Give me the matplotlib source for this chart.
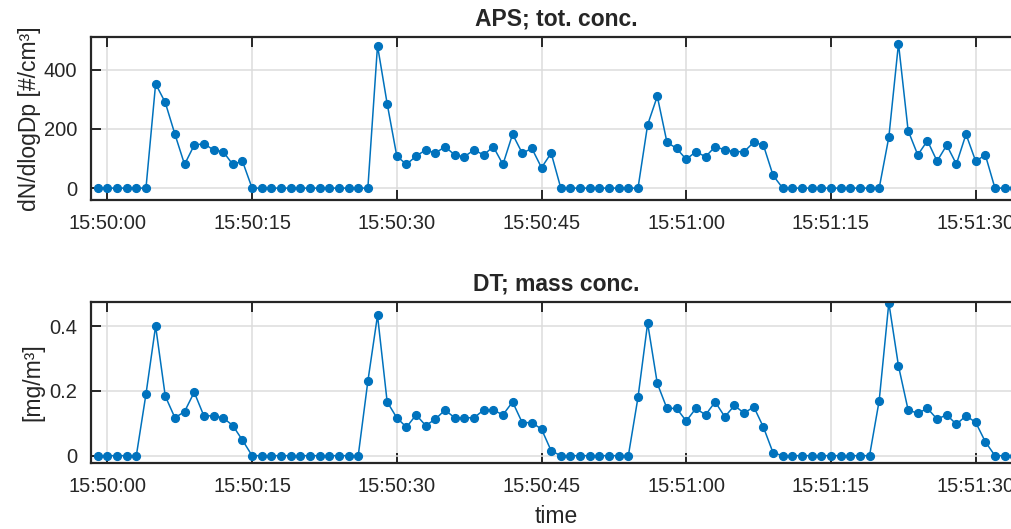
import matplotlib
matplotlib.use("Agg")
import matplotlib.pyplot as plt
import matplotlib.dates as mdates
from datetime import datetime, timedelta

# one sample per second, starting one second before 15:50:00
start = datetime(2020, 1, 1, 15, 49, 59)

aps_conc = [0, 0, 0, 0, 0, 0,
            352, 289, 182, 80, 145, 150, 129, 123, 80, 91,
            0, 0, 0, 0, 0, 0, 0, 0, 0, 0, 0, 0, 0,
            481, 285, 108, 80, 108, 129, 118, 140, 112, 106, 129, 112, 140, 80, 182, 118, 134, 69, 118,
            0, 0, 0, 0, 0, 0, 0, 0, 0,
            214, 310, 155, 134, 97, 123, 106, 140, 129, 123, 123, 155, 145, 43,
            0, 0, 0, 0, 0, 0, 0, 0, 0, 0, 0,
            172, 488, 194, 112, 160, 91, 145, 81, 182, 91, 112,
            0, 0, 0]

dt_mass = [0, 0, 0, 0, 0,
           0.19, 0.40, 0.184, 0.117, 0.136, 0.196, 0.123, 0.123, 0.117, 0.093, 0.048,
           0, 0, 0, 0, 0, 0, 0, 0, 0, 0, 0, 0,
           0.23, 0.433, 0.166, 0.117, 0.088, 0.126, 0.093, 0.113, 0.141, 0.117, 0.117, 0.117,
           0.141, 0.141, 0.126, 0.166, 0.102, 0.102, 0.082, 0.015,
           0, 0, 0, 0, 0, 0, 0, 0,
           0.18, 0.409, 0.223, 0.146, 0.146, 0.107, 0.146, 0.126, 0.166, 0.12, 0.155, 0.131,
           0.151, 0.088, 0.009,
           0, 0, 0, 0, 0, 0, 0, 0, 0, 0,
           0.17, 0.472, 0.277, 0.141, 0.131, 0.146, 0.113, 0.126, 0.097, 0.123, 0.103, 0.043,
           0, 0, 0]

times = [start + timedelta(seconds=i) for i in range(len(aps_conc))]

plt.rcParams['font.family'] = ['Liberation Sans', 'DejaVu Sans']
plt.rcParams['text.color'] = '#262626'
plt.rcParams['axes.labelcolor'] = '#262626'
plt.rcParams['xtick.color'] = '#262626'
plt.rcParams['ytick.color'] = '#262626'

blue = '#0072BD'
t0 = datetime(2020, 1, 1, 15, 50, 0)
x_lo = t0 - timedelta(seconds=1.7)
x_hi = t0 + timedelta(seconds=94.7)

tick_fs = 14.5
label_fs = 16.5
title_fs = 16.5

fig = plt.figure(figsize=(10.12, 5.29), dpi=100)
ax1 = fig.add_axes([0.0899, 0.622, 0.919, 0.308])
ax2 = fig.add_axes([0.0899, 0.1245, 0.919, 0.305])


def style(ax):
    ax.set_xlim(x_lo, x_hi)
    ax.xaxis.set_major_locator(mdates.SecondLocator(bysecond=[0, 15, 30, 45]))
    ax.xaxis.set_major_formatter(mdates.DateFormatter('%H:%M:%S'))
    ax.grid(True, color='#dcdcdc', linewidth=1.1)
    ax.set_axisbelow(True)
    ax.tick_params(direction='in', length=7, width=1.4, top=True, right=True,
                   labelsize=tick_fs, pad=10)
    for s in ax.spines.values():
        s.set_linewidth(1.6)
        s.set_color('#262626')


ax1.plot(times, aps_conc, '-o', color=blue, lw=1.1, ms=5.6)
style(ax1)
ax1.set_ylim(-40, 510)
ax1.set_yticks([0, 200, 400])
ax1.set_title('APS; tot. conc.', fontsize=title_fs, fontweight='bold', pad=8)
ax1.set_ylabel('dN/dlogDp [#/cm³]', fontsize=label_fs)
ax1.yaxis.set_label_coords(-0.054, 0.5)

ax2.plot(times, dt_mass, '-o', color=blue, lw=1.1, ms=5.6)
style(ax2)
ax2.set_ylim(-0.023, 0.475)
ax2.set_yticks([0, 0.2, 0.4])
ax2.set_yticklabels(['0', '0.2', '0.4'])
ax2.set_title('DT; mass conc.', fontsize=title_fs, fontweight='bold', pad=8)
ax2.set_ylabel('[mg/m³]', fontsize=label_fs)
ax2.yaxis.set_label_coords(-0.0505, 0.5)
ax2.set_xlabel('time', fontsize=label_fs, labelpad=6.5)

fig.savefig('out.png', dpi=100)
